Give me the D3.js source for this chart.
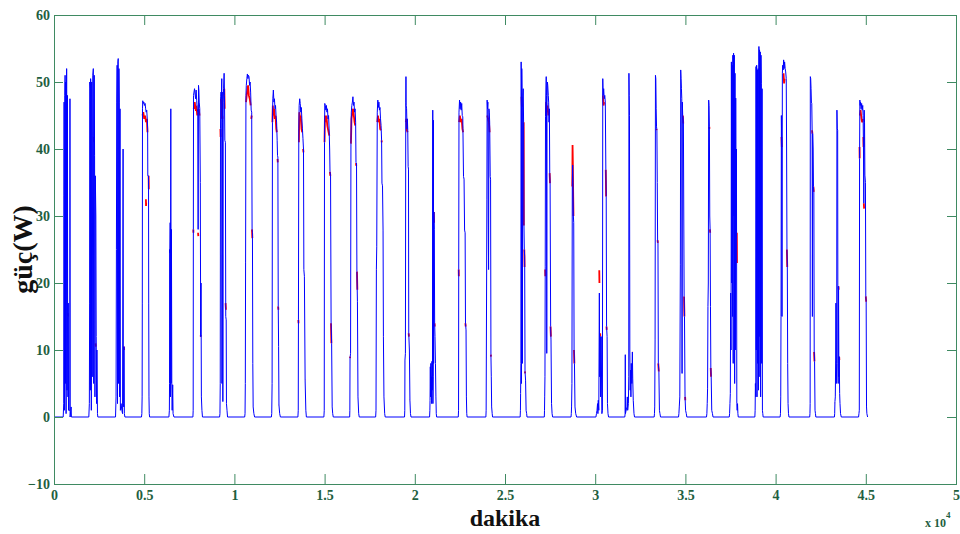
<!DOCTYPE html>
<html>
<head>
<meta charset="utf-8">
<script src="https://cdn.jsdelivr.net/npm/d3@7"></script>
<style>
  html, body { margin: 0; padding: 0; background: #fff; }
  svg { display: block; }
</style>
</head>
<body>
<svg id="chart" width="960" height="534"></svg>
<script>
// Axis ticks (x in minutes, labelled in units of 10^4)
const minuteTicks = [0, 5000, 10000, 15000, 20000, 25000, 30000, 35000, 40000, 45000, 50000];
const powerTicks = [-10, 0, 10, 20, 30, 40, 50, 60];

// Measured power, one array per day: [minute, watts]
const bluePowerByDay = [
  [[0,0],[510,0],[540,2],[550,33],[560,47],[575,1],[600,48],[615,51],[630,5],[650,50],[670,0.5],[700,52],[720,4],[745,48],[755,15],[775,3],[790,17],[805,1],[880,1],[885,47.5],[893,0],[950,1.5],[965,0]],
  [[1930,0],[1960,2],[1975,17],[1985,50],[2000,49],[2015,4],[2030,50.5],[2050,49],[2070,1],[2090,50],[2105,42],[2120,6],[2150,51],[2180,52],[2200,5],[2230,51],[2250,39],[2270,3],[2290,36],[2320,30],[2340,12],[2360,2],[2380,10],[2410,0.5],[2430,0]],
  [[3410,0],[3440,3],[3460,25],[3480,47],[3500,52.5],[3520,2],[3540,53],[3560,53.5],[3580,5],[3600,52],[3620,47],[3640,3],[3660,46],[3680,1],[3720,2],[3760,1],[3800,0.5],[3830,40],[3845,2],[3870,1.5],[3880,10.5],[3900,0.5],[3930,0]],
  [[4850,0],[4870,0.5],[4885,3],[4895,17],[4905,46],[4920,47.2],[4950,46.8],[4980,47],[5010,46.5],[5050,46.8],[5080,46],[5110,45.5],[5140,45.8],[5170,44.5],[5190,43],[5200,36],[5240,36],[5250,17],[5265,3],[5280,0.5],[5300,0]],
  [[6370,0],[6395,1],[6405,5],[6410,25],[6425,24.5],[6440,29],[6455,3],[6475,46],[6490,5],[6510,28],[6530,5],[6550,1],[6580,4.8],[6600,0.5],[6650,0]],
  [[7700,0],[7715,1],[7725,28],[7735,48],[7760,48.5],[7790,49],[7820,48.2],[7850,47.5],[7880,48.8],[7910,47.2],[7940,46],[7970,45.5],[7990,28],[8010,49.5],[8030,48.8],[8050,47],[8080,46],[8110,35],[8130,12],[8150,20],[8170,3],[8200,1],[8230,0]],
  [[9180,0],[9200,0.5],[9215,5],[9230,43],[9240,47.8],[9260,48.5],[9280,47.5],[9300,50.5],[9310,5],[9325,48.5],[9345,44],[9360,2.3],[9380,47],[9400,49],[9430,51.3],[9450,48],[9470,41.3],[9500,41],[9520,15],[9545,14.5],[9560,2],[9590,1],[9620,0]],
  [[10570,0],[10590,0.5],[10605,5],[10620,23],[10640,48],[10660,49.5],[10690,50.5],[10720,51.2],[10750,50.5],[10780,51],[10810,50.8],[10840,49.5],[10870,50],[10900,48.5],[10930,45.8],[10960,45.5],[10980,28],[11000,27.5],[11020,8],[11040,1.5],[11080,0.5],[11120,0]],
  [[12050,0],[12070,0.5],[12090,5],[12110,44],[12130,47.5],[12160,48.8],[12190,47],[12220,47.5],[12250,46],[12280,46.5],[12310,45],[12340,44],[12370,41.3],[12390,39],[12410,38.8],[12430,16.5],[12450,10.5],[12470,1.8],[12510,0.5],[12550,0]],
  [[13520,0],[13540,1],[13550,14.5],[13570,43],[13590,46.5],[13620,47.5],[13650,46.8],[13680,45.5],[13710,46.2],[13740,44.5],[13770,43],[13800,41.6],[13830,40],[13850,22],[13880,21],[13920,5.5],[13960,1],[13990,0]],
  [[14960,0],[14980,1],[14995,41],[15010,46.8],[15040,46.5],[15070,45.8],[15100,46.5],[15130,45.5],[15160,46],[15190,44.5],[15220,45],[15250,43],[15280,40],[15300,36.6],[15330,36],[15360,14],[15390,11],[15420,1.5],[15450,0.5],[15480,0]],
  [[16390,0],[16400,1],[16410,8.8],[16440,9.5],[16460,41],[16480,45.5],[16510,46.5],[16540,47],[16570,47.8],[16600,46.5],[16630,47],[16660,45.5],[16690,46],[16720,44],[16740,38],[16770,37.9],[16790,21.7],[16820,17.2],[16850,3],[16890,0.5],[16920,0]],
  [[17830,0],[17850,1],[17870,22],[17890,25.4],[17920,45.5],[17950,47.3],[17980,46.2],[18010,47],[18040,45.8],[18070,46.2],[18100,44.5],[18130,43.5],[18160,41.3],[18180,34.9],[18210,34.5],[18240,27.9],[18260,12],[18290,3],[18330,0.5],[18360,0]],
  [[19430,0],[19445,1],[19455,8.5],[19480,9.5],[19500,47],[19510,50.8],[19520,46.5],[19545,46],[19570,43],[19590,44.5],[19610,42.8],[19630,37.4],[19650,37],[19665,12.5],[19700,10],[19730,2.5],[19760,0.5],[19790,0]],
  [[20820,0],[20835,1],[20845,2.5],[20860,7.5],[20875,3],[20890,8],[20905,5],[20920,6],[20935,2],[20950,8.3],[20965,4],[20980,6],[20995,45.8],[21005,2],[21020,6],[21030,44.3],[21045,8],[21060,30.6],[21080,28],[21100,14],[21120,12],[21145,8],[21170,3],[21190,0.5],[21210,0]],
  [[22410,0],[22425,1],[22435,22],[22450,45.5],[22480,47.3],[22510,46],[22540,47],[22570,45.8],[22600,46.8],[22630,45],[22660,44.8],[22700,35.9],[22730,35.5],[22760,27.9],[22790,27.5],[22810,14],[22840,13],[22860,3],[22880,0.5],[22900,0]],
  [[23940,0],[23955,1],[23965,8.8],[23980,20],[23995,32.4],[24010,47.3],[24030,46],[24050,47],[24070,30],[24090,22],[24110,46],[24130,45.5],[24150,44],[24180,35.9],[24200,35.5],[24220,9.3],[24240,6],[24260,1.5],[24290,0.5],[24310,0]],
  [[25840,0],[25855,1],[25865,3.5],[25880,8],[25895,53],[25905,50],[25915,5],[25930,52],[25950,48],[25965,8],[25985,47.8],[26010,49],[26030,44],[26050,29],[26070,25],[26090,24],[26110,6.8],[26140,5.5],[26170,1],[26200,0.5],[26220,0]],
  [[27180,0],[27190,1],[27200,3],[27215,6],[27230,22.4],[27245,44.8],[27265,48.5],[27285,50.8],[27300,48],[27315,9.5],[27330,47],[27350,50],[27370,49.5],[27400,48],[27420,47],[27440,44],[27460,46],[27480,36.4],[27500,34.9],[27530,13.5],[27550,11.5],[27580,2],[27610,0.5],[27640,0]],
  [[28660,0],[28675,0.5],[28690,1.5],[28710,5],[28730,34.4],[28750,37.6],[28770,35],[28790,30],[28810,29],[28830,10],[28850,8],[28880,1.5],[28920,0.5],[28970,0]],
  [[30040,0],[30070,0.5],[30100,1],[30130,2],[30150,0.5],[30170,2.5],[30200,1],[30230,18.5],[30250,6],[30280,12],[30300,3],[30330,12],[30370,0.5],[30400,1],[30420,50.5],[30440,48],[30470,49],[30500,47.5],[30530,48],[30560,47],[30590,36.9],[30610,32.9],[30630,13.5],[30660,12],[30680,2],[30710,0.5],[30740,0]],
  [[31640,0],[31660,0.5],[31668,9.3],[31676,0.5],[31700,0.8],[31760,1.5],[31780,3],[31800,1],[31840,2],[31860,6],[31870,51.3],[31885,48],[31900,45],[31920,10],[31940,4],[31960,7],[31980,3],[32000,8],[32030,5],[32060,9.7],[32080,5.8],[32110,2.5],[32150,0.5],[32180,0]],
  [[33270,0],[33285,0.5],[33300,1.5],[33320,11.5],[33340,51],[33360,50.5],[33380,46],[33400,43.3],[33420,42.8],[33440,35],[33460,26.4],[33480,26],[33500,8],[33530,6.8],[33560,1],[33590,0.5],[33620,0]],
  [[34620,0],[34640,0.5],[34660,1.5],[34690,3],[34720,22.7],[34740,51.8],[34760,50.5],[34780,49],[34800,47.5],[34815,6.5],[34830,47],[34850,45],[34870,44.8],[34890,44],[34910,30],[34930,18],[34950,15],[34980,3],[35010,1],[35050,0.5],[35080,0]],
  [[36170,0],[36190,0.5],[36210,2],[36230,4.3],[36250,16.5],[36270,20],[36290,47.3],[36310,46.5],[36330,43.3],[36350,30],[36370,27.9],[36390,16.5],[36410,7.3],[36430,6],[36460,1],[36500,0.5],[36530,0]],
  [[37430,0],[37450,0.5],[37470,2],[37490,3.5],[37510,18.5],[37530,10],[37550,53],[37570,20],[37590,52.5],[37610,15],[37630,54],[37650,8],[37670,54.3],[37690,30],[37710,54],[37730,5],[37750,51.3],[37770,10],[37790,47.6],[37810,27],[37830,40],[37850,2],[37870,1],[37890,2],[37910,0.5],[37930,0]],
  [[38850,0],[38865,1],[38880,5],[38900,3],[38915,52.3],[38930,10],[38950,52.5],[38970,3],[38990,51.8],[39010,8],[39030,52],[39050,4],[39075,55.3],[39090,12],[39110,54.8],[39130,6],[39150,54.5],[39170,3],[39190,54],[39210,49.8],[39230,8],[39250,49],[39270,1],[39290,0.5],[39310,0]],
  [[40250,0],[40270,0.5],[40285,3],[40300,15],[40320,45],[40340,40],[40355,15],[40375,51.3],[40395,52.5],[40420,51.8],[40445,53.3],[40470,52],[40500,53],[40530,52],[40560,51.5],[40590,50.5],[40610,40],[40630,25],[40650,22.4],[40670,8],[40690,2],[40715,0.5],[40740,0]],
  [[41890,0],[41905,0.5],[41915,2],[41925,50.8],[41945,50.5],[41965,49],[41985,47],[42005,46.8],[42025,42.8],[42040,15],[42055,42.3],[42080,40],[42100,34.4],[42120,33.6],[42140,9.7],[42160,8.3],[42185,1],[42210,0.5],[42230,0]],
  [[43260,0],[43275,0.5],[43290,2.3],[43310,3],[43330,8.5],[43345,17],[43365,5],[43385,8],[43400,45.8],[43420,43],[43440,42.8],[43455,8],[43470,5],[43490,19.5],[43510,6],[43530,9],[43550,3.5],[43570,2],[43600,0.5],[43640,0]],
  [[44600,0],[44620,0.5],[44640,1],[44655,38.6],[44670,47.3],[44690,46.5],[44710,47],[44740,46],[44770,46.8],[44800,45.8],[44830,46.5],[44850,45],[44870,40.3],[44890,31.9],[44910,45.8],[44930,44],[44950,36.1],[44980,35],[45000,18],[45020,17.2],[45040,1.5],[45060,0.5],[45100,0]]
];

// Second measurement: where it departs from the main trace, per day, as runs of [minute, watts]
const redPowerByDay = [
  [[[760,15.5],[775,15]]],
  [[[1975,5],[1982,5]], [[2205,41.8],[2225,41]], [[2300,11],[2320,10.5]]],
  [[[3875,10.5],[3890,10]]],
  [[[4905,45],[4950,45.5],[5000,44.5],[5050,45],[5100,44],[5150,44.5],[5180,42.5]], [[5095,32.5],[5102,31.5],[5108,32]], [[5245,36],[5255,34]]],
  [[[6575,4.8],[6585,4.8]]],
  [[[7725,28],[7728,27.5]], [[7745,46],[7800,47],[7850,46],[7900,46.2],[7940,45]], [[7985,27.5],[8000,27]], [[8020,46],[8070,45]], [[8125,12.2],[8140,12]]],
  [[[9225,43],[9235,41.8]], [[9250,47.5],[9280,46.5],[9300,44.5]], [[9330,45],[9345,44.5]], [[9420,48.5],[9440,49],[9460,46]], [[9510,17],[9530,16]]],
  [[[10615,23],[10625,23]], [[10645,47],[10700,48.5],[10760,49.5],[10800,48],[10850,47.5],[10900,46.5]], [[10930,44.5],[10960,45]], [[10975,28],[10995,26.7]]],
  [[[12105,44],[12130,46.5],[12170,45],[12200,46],[12240,44.5],[12280,45],[12320,43],[12350,42.5]], [[12390,38.5],[12405,38]], [[12425,16.5],[12440,16]], [[12465,1.8],[12475,1.8]]],
  [[[13545,14.5],[13555,14]], [[13575,41],[13600,45.5],[13640,44.5],[13680,45],[13720,43],[13760,42.5]], [[13810,40],[13830,39.5]], [[13915,5.5],[13925,5.5]]],
  [[[14995,41],[15020,45],[15060,44],[15100,45],[15150,43.5],[15200,42.8],[15260,42]], [[15295,36.6],[15320,36]], [[15355,14],[15375,11]]],
  [[[16408,8.8],[16420,9]], [[16460,40.8],[16490,44.5],[16540,45.5],[16580,46],[16620,45],[16660,44],[16700,43.5]], [[16735,37.9],[16760,37.5]], [[16795,21.7],[16815,19]]],
  [[[17865,22],[17880,22]], [[17920,44],[17960,45],[18000,44],[18040,44.5],[18080,43],[18120,42.8]], [[18155,41.3],[18170,41]], [[18255,12],[18265,12]]],
  [[[19500,44],[19530,44.5],[19560,42.8],[19600,42.5]], [[19660,12.5],[19675,12]], [[19725,2.5],[19735,2.5]]],
  [[[20990,14],[21005,14]], [[21055,30.6],[21070,29]], [[21095,14],[21110,13.5]]],
  [[[22432,22],[22440,21]], [[22455,44],[22500,45],[22550,44],[22600,44.5],[22640,43],[22680,42.5]], [[22805,14],[22820,13.5]]],
  [[[23962,8.8],[23970,8.8]], [[24015,45],[24060,44.5],[24110,44],[24150,42.5]], [[24215,9.3],[24225,9]]],
  [[[25915,47.8],[25935,46.3]], [[26035,44],[26045,28.6]], [[26070,25],[26085,22.4]], [[26105,6.8],[26115,6.5]]],
  [[[27225,22],[27235,21]], [[27265,45],[27280,47],[27320,45.5],[27360,46.5],[27400,45]], [[27475,36.4],[27495,34.9]], [[27525,13.5],[27545,12]]],
  [[[28730,34.4],[28745,40.6],[28760,38],[28780,33],[28795,30]], [[28825,10],[28845,8]]],
  [[[30225,21.9],[30235,20]], [[30275,12.5],[30285,12]], [[30425,48],[30460,46.5],[30500,47]], [[30585,36.9],[30605,32.9]], [[30625,13.5],[30640,13]]],
  [[[32055,9.7],[32065,9.7]], [[32075,5.8],[32085,5.8]]],
  [[[33390,43],[33410,42.8]], [[33455,26.4],[33475,26]], [[33495,8],[33525,6.8]]],
  [[[34860,45],[34880,43.8]], [[34925,18],[34945,15]], [[34985,3],[34995,2.5]]],
  [[[36225,4.3],[36235,4.3]], [[36325,43.3],[36335,43]], [[36360,28],[36375,27.5]], [[36405,7.3],[36420,6]]],
  [[[37850,27.5],[37860,23]]],
  [[[38875,5],[38885,5]]],
  [[[40325,41.8],[40345,40.3]], [[40440,51.3],[40470,49.8],[40500,50.5]], [[40625,25],[40645,22.4]]],
  [[[42020,42.8],[42040,42.3]], [[42095,34.4],[42115,33.6]], [[42135,9.7],[42155,8.3]]],
  [[[43285,2.1],[43295,2.1]], [[43485,19.5],[43495,19]], [[43525,9],[43535,8.5]]],
  [[[44652,40.3],[44660,38.6]], [[44670,45],[44710,45.8],[44760,44.5],[44800,44],[44840,44.5]], [[44865,41.8],[44875,40.3]], [[44890,31.9],[44905,31.1]], [[45000,18],[45020,17.2]]]
];

const margin = { left: 54, right: 4, top: 15, bottom: 50 };
const W = 960, H = 534;
const plotW = W - margin.left - margin.right;
const plotH = H - margin.top - margin.bottom;

const svg = d3.select("#chart");
const g = svg.append("g").attr("transform", `translate(${margin.left},${margin.top})`);

const x = d3.scaleLinear().domain([0, 50000]).range([0, plotW]);
const y = d3.scaleLinear().domain([-10, 60]).range([plotH, 0]);

const serif = '"Liberation Serif", "Times New Roman", serif';
const axisGreen = "#3f8a62";
const labelGreen = "#1f5f3f";

// Traces: second measurement underneath, main measurement on top
const line = d3.line().defined(d => d !== null).x(d => x(d[0])).y(d => y(d[1]));
const redRuns = redPowerByDay.flatMap(day => day.flatMap(run => [...run, null]));
g.append("path")
  .datum(redRuns)
  .attr("fill", "none").attr("stroke", "#ff0000").attr("stroke-width", 1.8)
  .attr("d", line);
g.append("path")
  .datum(bluePowerByDay.flat())
  .attr("fill", "none").attr("stroke", "#0000ff").attr("stroke-width", 1)
  .attr("d", line);

// Axes with inward ticks on all four sides
const fmt = d => String(d / 10000);
g.append("g").attr("transform", `translate(0,${plotH})`)
  .call(d3.axisBottom(x).tickValues(minuteTicks).tickSize(-10).tickPadding(6).tickFormat(fmt))
  .call(a => a.select(".domain").remove());
g.append("g")
  .call(d3.axisTop(x).tickValues(minuteTicks).tickSize(-10).tickFormat(""))
  .call(a => a.select(".domain").remove());
g.append("g")
  .call(d3.axisLeft(y).tickValues(powerTicks).tickSize(-9).tickPadding(4))
  .call(a => a.select(".domain").remove());
g.append("g").attr("transform", `translate(${plotW},0)`)
  .call(d3.axisRight(y).tickValues(powerTicks).tickSize(-9).tickFormat(""))
  .call(a => a.select(".domain").remove());

g.selectAll(".tick text").style("font-family", serif).style("font-weight", "bold")
  .style("font-size", "14px").style("fill", labelGreen);
g.selectAll(".tick line").style("stroke", axisGreen);

// Axes box
g.append("rect").attr("x", 0.5).attr("y", 0.5).attr("width", plotW).attr("height", plotH)
  .attr("fill", "none").attr("stroke", axisGreen).attr("stroke-width", 1);

// Axis titles
svg.append("text")
  .attr("x", 505).attr("y", 526).attr("text-anchor", "middle")
  .style("font-family", serif).style("font-weight", "bold").style("font-size", "24px").style("fill", "#111")
  .text("dakika");
svg.append("text")
  .attr("transform", `translate(32,${margin.top + plotH / 2}) rotate(-90)`)
  .attr("text-anchor", "middle")
  .style("font-family", serif).style("font-weight", "bold").style("font-size", "28px").style("fill", "#111")
  .text("güç(W)");

// Exponent note for the x axis
const expo = svg.append("text").attr("x", 925).attr("y", 527)
  .style("font-family", serif).style("font-weight", "bold").style("font-size", "12px").style("fill", labelGreen);
expo.append("tspan").text("x 10");
expo.append("tspan").attr("dy", -9).style("font-size", "9px").text("4");
</script>
</body>
</html>
